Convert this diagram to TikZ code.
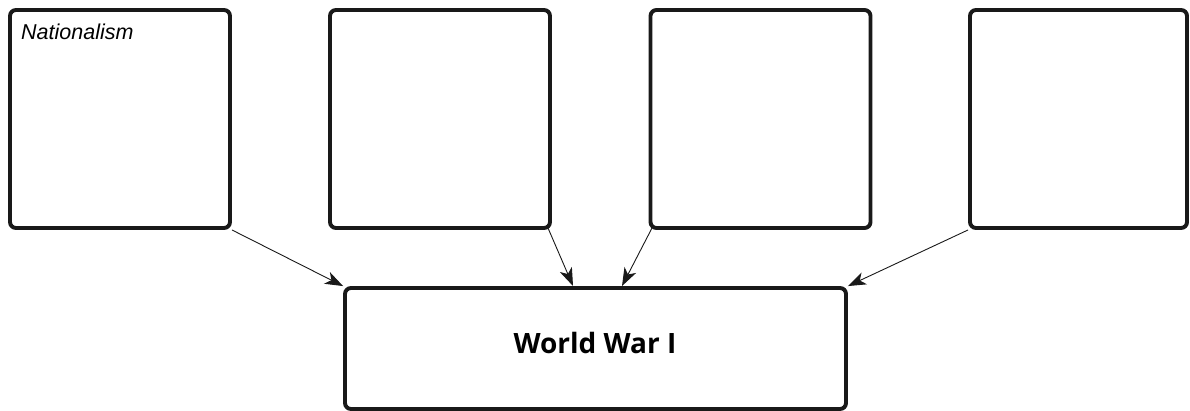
\documentclass[tikz,border=0pt]{standalone}
\usepackage{fontspec}
\setmainfont{Liberation Sans}
\newfontfamily\boldsans{Open Sans}
\newfontfamily\handfont{Liberation Sans}
\usetikzlibrary{arrows.meta,calc}
\tikzset{
  causebox/.style={draw=black!90, line width=3.9pt, rounded corners=6pt, minimum width=220pt, minimum height=218pt, inner sep=0pt},
  resultbox/.style={draw=black!90, line width=3.9pt, rounded corners=6pt, minimum width=501pt, minimum height=121pt, inner sep=0pt},
  link/.style={draw=black!90, line width=0.9pt, -{Stealth[length=18pt,width=13pt,inset=5pt]}}
}
\begin{document}
\begin{tikzpicture}[x=1pt,y=-1pt]
\useasboundingbox (0,0) rectangle (1190,411);
\node[causebox] (b1) at (120,119) {};
\node[causebox] (b2) at (440,119) {};
\node[causebox] (b3) at (760.5,119) {};
\node[causebox, minimum width=217pt] (b4) at (1078.5,119) {};
\node[resultbox] (ww) at (595.5,348.5) {};
\node[anchor=base west, inner sep=0pt] (lab) at (21,40) {\handfont\itshape\fontsize{21.5}{25}\selectfont Nationalism};
\node[anchor=base, inner sep=0pt] (wwlab) at (595,353) {\boldsans\bfseries\fontsize{28}{33}\selectfont World War I};
\coordinate (s2) at (548,228);
\coordinate (s3) at (652,228);
\coordinate (e2) at (573,286);
\coordinate (e3) at (622,286);
\draw[link] (b1.south east) -- (ww.north west);
\draw[link] (s2) -- (e2);
\draw[link] (s3) -- (e3);
\draw[link] (b4.south west) -- (ww.north east);
\end{tikzpicture}
\end{document}
